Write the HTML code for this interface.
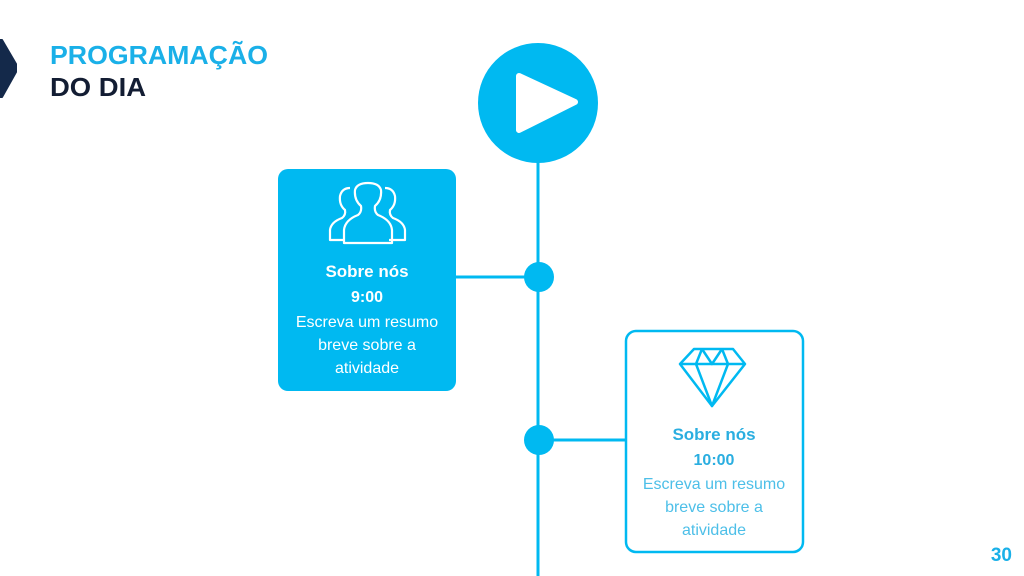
<!DOCTYPE html>
<html><head><meta charset="utf-8"><style>
html,body{margin:0;padding:0;background:#fff;}
svg{display:block;}
text{font-family:"Liberation Sans",sans-serif;}
</style></head><body>
<svg width="1024" height="576" viewBox="0 0 1024 576" xmlns="http://www.w3.org/2000/svg">
<rect width="1024" height="576" fill="#fff"/>
<polygon points="0,40 2,40 16,64 16,72 2,97 0,97" fill="#14294a" stroke="#14294a" stroke-width="2" stroke-linejoin="round"/>
<text x="50" y="64" font-size="26" font-weight="bold" fill="#1ab0e8" textLength="218" lengthAdjust="spacingAndGlyphs">PROGRAMAÇÃO</text>
<text x="50" y="96" font-size="26" font-weight="bold" fill="#131d33" textLength="96" lengthAdjust="spacingAndGlyphs">DO DIA</text>

<line x1="538" y1="150" x2="538" y2="576" stroke="#00b9f1" stroke-width="3"/>
<circle cx="538" cy="103" r="60" fill="#00b9f1"/>
<polygon points="519,76 575,102 519,130" fill="#fff" stroke="#fff" stroke-width="6" stroke-linejoin="round"/>

<line x1="456" y1="277" x2="539" y2="277" stroke="#00b9f1" stroke-width="3"/>
<circle cx="539" cy="277" r="15" fill="#00b9f1"/>
<line x1="539" y1="440" x2="625" y2="440" stroke="#00b9f1" stroke-width="3"/>
<circle cx="539" cy="440" r="15" fill="#00b9f1"/>

<rect x="278" y="169" width="178" height="222" rx="10" fill="#00b9f1"/>
<g fill="none" stroke="#fff" stroke-width="2.2" stroke-linejoin="round">
<path d="M345,240 L330,240 L330,230 Q331,222 342,218 Q346,215 345,210 Q339,205 340,196 Q342,188 350,188"/>
<path d="M389,240 L405,240 L405,230 Q404,222 393,218 Q389,215 390,210 Q396,205 395,196 Q393,188 385,188"/>
<path d="M344,243 L344,230 Q345,220 358,215 Q362,212 361,206 Q354,200 355,190 Q357,183 368,183 Q379,183 381,190 Q382,200 375,206 Q374,212 378,215 Q391,220 392,230 L392,243 Z"/>
</g>
<g fill="#fff" text-anchor="middle">
<text x="367" y="277" font-size="17" font-weight="bold">Sobre nós</text>
<text x="367" y="302" font-size="16" font-weight="bold">9:00</text>
<text x="367" y="327" font-size="16">Escreva um resumo</text>
<text x="367" y="350" font-size="16">breve sobre a</text>
<text x="367" y="373" font-size="16">atividade</text>
</g>

<rect x="626" y="331" width="177" height="221" rx="10" fill="#fff" stroke="#00b9f1" stroke-width="2.5"/>
<g fill="none" stroke="#00b9f1" stroke-width="2.5" stroke-linejoin="round">
<path d="M694,349 L733,349 L745,364 L712,406 L680,364 Z"/>
<path d="M680,364 L745,364"/>
<path d="M702,349 L696,364 L712,406 L728,364 L722,349"/>
<path d="M702,349 L712,364 L722,349"/>
</g>
<g fill="#2aaee0" text-anchor="middle">
<text x="714" y="440" font-size="17" font-weight="bold">Sobre nós</text>
<text x="714" y="465" font-size="16" font-weight="bold">10:00</text>
<text x="714" y="489" font-size="16" fill="#4dbfe8">Escreva um resumo</text>
<text x="714" y="512" font-size="16" fill="#4dbfe8">breve sobre a</text>
<text x="714" y="535" font-size="16" fill="#4dbfe8">atividade</text>
</g>
<text x="1012" y="561" font-size="19" font-weight="bold" fill="#1ab0e8" text-anchor="end">30</text>
</svg>
</body></html>
